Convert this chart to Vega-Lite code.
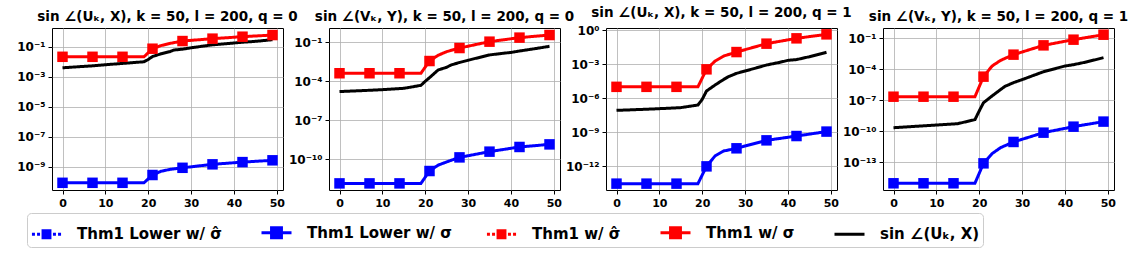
{
  "$schema": "https://vega.github.io/schema/vega-lite/v6.json",
  "padding": {"left": 16, "top": 5, "right": 0, "bottom": 3},
  "background": "white",
  "data": {"values": [
    {"p":1,"x":0,"l":8.51e-11,"u":2.14e-2,"s":3.98e-3},
    {"p":1,"x":5,"s":4.90e-3},
    {"p":1,"x":7,"l":8.51e-11,"u":2.14e-2,"s":5.37e-3},
    {"p":1,"x":10,"s":6.31e-3},
    {"p":1,"x":14,"l":8.51e-11,"u":2.14e-2,"s":7.76e-3},
    {"p":1,"x":15,"s":8.13e-3},
    {"p":1,"x":19,"l":8.51e-11,"u":2.14e-2,"s":1.0e-2},
    {"p":1,"x":20,"s":1.41e-2},
    {"p":1,"x":21,"l":2.82e-10,"u":7.41e-2,"s":2.24e-2},
    {"p":1,"x":23,"l":5.01e-10,"u":1.20e-1,"s":3.39e-2},
    {"p":1,"x":25,"l":6.61e-10,"u":1.66e-1,"s":4.68e-2},
    {"p":1,"x":26,"s":6.03e-2},
    {"p":1,"x":28,"l":8.51e-10,"u":2.40e-1,"s":6.92e-2},
    {"p":1,"x":30,"s":8.51e-2},
    {"p":1,"x":35,"l":1.45e-9,"u":3.47e-1,"s":1.35e-1},
    {"p":1,"x":38,"s":1.58e-1},
    {"p":1,"x":40,"s":1.78e-1},
    {"p":1,"x":42,"l":2.04e-9,"u":4.68e-1,"s":2.0e-1},
    {"p":1,"x":45,"s":2.29e-1},
    {"p":1,"x":49,"l":2.69e-9,"u":6.03e-1,"s":2.95e-1},

    {"p":2,"x":0,"l":1.41e-12,"u":4.17e-4,"s":1.62e-5},
    {"p":2,"x":5,"s":1.91e-5},
    {"p":2,"x":7,"l":1.41e-12,"u":4.17e-4,"s":2.04e-5},
    {"p":2,"x":10,"s":2.29e-5},
    {"p":2,"x":14,"l":1.41e-12,"u":4.17e-4,"s":2.75e-5},
    {"p":2,"x":15,"s":2.88e-5},
    {"p":2,"x":19,"l":1.41e-12,"u":4.17e-4,"s":4.90e-5},
    {"p":2,"x":20,"s":1.0e-4},
    {"p":2,"x":21,"l":1.26e-11,"u":3.63e-3,"s":1.91e-4},
    {"p":2,"x":23,"l":3.55e-11,"u":1.0e-2,"s":7.41e-4},
    {"p":2,"x":25,"l":6.31e-11,"u":1.91e-2,"s":1.20e-3},
    {"p":2,"x":26,"s":1.78e-3},
    {"p":2,"x":28,"l":1.41e-10,"u":3.63e-2,"s":2.82e-3},
    {"p":2,"x":30,"s":4.17e-3},
    {"p":2,"x":35,"l":3.89e-10,"u":1.12e-1,"s":1.07e-2},
    {"p":2,"x":38,"s":1.41e-2},
    {"p":2,"x":40,"s":1.66e-2},
    {"p":2,"x":42,"l":8.91e-10,"u":2.29e-1,"s":2.14e-2},
    {"p":2,"x":45,"s":3.02e-2},
    {"p":2,"x":49,"l":1.41e-9,"u":3.63e-1,"s":4.90e-2},

    {"p":3,"x":0,"l":3.02e-14,"u":1.0e-5,"s":8.51e-8},
    {"p":3,"x":5,"s":1.0e-7},
    {"p":3,"x":7,"l":3.02e-14,"u":1.0e-5,"s":1.07e-7},
    {"p":3,"x":10,"s":1.20e-7},
    {"p":3,"x":14,"l":3.02e-14,"u":1.0e-5,"s":1.41e-7},
    {"p":3,"x":15,"s":1.48e-7},
    {"p":3,"x":19,"l":3.02e-14,"u":1.0e-5,"s":2.51e-7},
    {"p":3,"x":20,"s":7.94e-7},
    {"p":3,"x":21,"l":1.0e-12,"u":3.47e-4,"s":4.27e-6},
    {"p":3,"x":23,"l":8.32e-12,"u":1.86e-3,"s":1.45e-5},
    {"p":3,"x":25,"l":2.24e-11,"u":5.13e-3,"s":4.47e-5},
    {"p":3,"x":26,"s":7.41e-5},
    {"p":3,"x":28,"l":3.89e-11,"u":1.15e-2,"s":1.55e-4},
    {"p":3,"x":30,"s":2.45e-4},
    {"p":3,"x":35,"l":1.95e-10,"u":6.31e-2,"s":8.32e-4},
    {"p":3,"x":38,"s":1.41e-3},
    {"p":3,"x":40,"s":2.14e-3},
    {"p":3,"x":42,"l":4.68e-10,"u":1.86e-1,"s":2.51e-3},
    {"p":3,"x":45,"s":4.47e-3},
    {"p":3,"x":49,"l":1.15e-9,"u":4.17e-1,"s":1.10e-2},

    {"p":4,"x":0,"l":9.33e-16,"u":2.24e-7,"s":2.24e-10},
    {"p":4,"x":5,"s":3.02e-10},
    {"p":4,"x":7,"l":9.33e-16,"u":2.24e-7,"s":3.39e-10},
    {"p":4,"x":10,"s":4.07e-10},
    {"p":4,"x":14,"l":9.33e-16,"u":2.24e-7,"s":5.13e-10},
    {"p":4,"x":15,"s":5.50e-10},
    {"p":4,"x":19,"l":9.33e-16,"u":2.24e-7,"s":1.35e-9},
    {"p":4,"x":20,"s":9.33e-9},
    {"p":4,"x":21,"l":7.94e-14,"u":1.95e-5,"s":5.89e-8},
    {"p":4,"x":23,"l":6.92e-13,"u":2.09e-4,"s":2.63e-7},
    {"p":4,"x":25,"l":2.63e-12,"u":7.41e-4,"s":1.12e-6},
    {"p":4,"x":26,"s":2.24e-6},
    {"p":4,"x":28,"l":9.33e-12,"u":2.63e-3,"s":5.13e-6},
    {"p":4,"x":30,"s":1.0e-5},
    {"p":4,"x":35,"l":7.41e-11,"u":2.09e-2,"s":5.89e-5},
    {"p":4,"x":38,"s":1.26e-4},
    {"p":4,"x":40,"s":2.09e-4},
    {"p":4,"x":42,"l":2.82e-10,"u":7.41e-2,"s":2.82e-4},
    {"p":4,"x":45,"s":5.13e-4},
    {"p":4,"x":49,"l":8.71e-10,"u":2.24e-1,"s":1.35e-3}
  ]},
  "transform": [
    {"fold": ["l", "u", "s"], "as": ["k", "v"]},
    {"filter": "isValid(datum.v)"}
  ],
  "bounds": "flush",
  "spacing": 46,
  "resolve": {
    "scale": {"x": "independent", "y": "independent", "color": "shared", "strokeDash": "shared"},
    "legend": {"color": "shared", "strokeDash": "shared"}
  },
  "hconcat": [
    {
      "width": 231, "height": 162,
      "title": {"text": "sin ∠(Uₖ, X), k = 50,  l = 200,  q = 0"},
      "transform": [{"filter": "datum.p == 1"}],
      "layer": [
        {"mark": {"type": "line", "strokeWidth": 3},
         "encoding": {
           "x": {"field": "x", "type": "quantitative", "scale": {"domain": [-2.45, 51.45], "nice": false, "zero": false}, "axis": {"values": [0,10,20,30,40,50], "title": null}},
           "y": {"field": "v", "type": "quantitative", "scale": {"type": "log", "domain": [2.82e-11, 1.78], "nice": false}, "axis": {"values": [1e-1,1e-3,1e-5,1e-7,1e-9], "title": null}},
           "color": {"field": "k", "type": "nominal"},
           "strokeDash": {"field": "k", "type": "nominal"}
         }},
        {"transform": [{"filter": "datum.k != 's' && indexof([0,7,14,21,28,35,42,49], datum.x) >= 0"}],
         "mark": {"type": "point", "shape": "square", "filled": true, "size": 110, "opacity": 1},
         "encoding": {
           "x": {"field": "x", "type": "quantitative"},
           "y": {"field": "v", "type": "quantitative"},
           "color": {"field": "k", "type": "nominal"}
         }}
      ]
    },
    {
      "width": 231, "height": 162,
      "title": {"text": "sin ∠(Vₖ, Y), k = 50,  l = 200,  q = 0"},
      "transform": [{"filter": "datum.p == 2"}],
      "layer": [
        {"mark": {"type": "line", "strokeWidth": 3},
         "encoding": {
           "x": {"field": "x", "type": "quantitative", "scale": {"domain": [-2.45, 51.45], "nice": false, "zero": false}, "axis": {"values": [0,10,20,30,40,50], "title": null}},
           "y": {"field": "v", "type": "quantitative", "scale": {"type": "log", "domain": [4.37e-13, 1.26], "nice": false}, "axis": {"values": [1e-1,1e-4,1e-7,1e-10], "title": null}},
           "color": {"field": "k", "type": "nominal"},
           "strokeDash": {"field": "k", "type": "nominal"}
         }},
        {"transform": [{"filter": "datum.k != 's' && indexof([0,7,14,21,28,35,42,49], datum.x) >= 0"}],
         "mark": {"type": "point", "shape": "square", "filled": true, "size": 110, "opacity": 1},
         "encoding": {
           "x": {"field": "x", "type": "quantitative"},
           "y": {"field": "v", "type": "quantitative"},
           "color": {"field": "k", "type": "nominal"}
         }}
      ]
    },
    {
      "width": 231, "height": 162,
      "title": {"text": "sin ∠(Uₖ, X), k = 50,  l = 200,  q = 1"},
      "transform": [{"filter": "datum.p == 3"}],
      "layer": [
        {"mark": {"type": "line", "strokeWidth": 3},
         "encoding": {
           "x": {"field": "x", "type": "quantitative", "scale": {"domain": [-2.45, 51.45], "nice": false, "zero": false}, "axis": {"values": [0,10,20,30,40,50], "title": null}},
           "y": {"field": "v", "type": "quantitative", "scale": {"type": "log", "domain": [8.32e-15, 1.51], "nice": false}, "axis": {"values": [1,1e-3,1e-6,1e-9,1e-12], "title": null}},
           "color": {"field": "k", "type": "nominal"},
           "strokeDash": {"field": "k", "type": "nominal"}
         }},
        {"transform": [{"filter": "datum.k != 's' && indexof([0,7,14,21,28,35,42,49], datum.x) >= 0"}],
         "mark": {"type": "point", "shape": "square", "filled": true, "size": 110, "opacity": 1},
         "encoding": {
           "x": {"field": "x", "type": "quantitative"},
           "y": {"field": "v", "type": "quantitative"},
           "color": {"field": "k", "type": "nominal"}
         }}
      ]
    },
    {
      "width": 231, "height": 162,
      "title": {"text": "sin ∠(Vₖ, Y), k = 50,  l = 200,  q = 1"},
      "transform": [{"filter": "datum.p == 4"}],
      "layer": [
        {"mark": {"type": "line", "strokeWidth": 3},
         "encoding": {
           "x": {"field": "x", "type": "quantitative", "scale": {"domain": [-2.45, 51.45], "nice": false, "zero": false}, "axis": {"values": [0,10,20,30,40,50], "title": null}},
           "y": {"field": "v", "type": "quantitative", "scale": {"type": "log", "domain": [2.09e-16, 1.0], "nice": false}, "axis": {"values": [1e-1,1e-4,1e-7,1e-10,1e-13], "title": null}},
           "color": {"field": "k", "type": "nominal", "scale": {"domain": ["lh","l","uh","u","s"], "range": ["#0000ff","#0000ff","#ff0000","#ff0000","#000000"]},
             "legend": {
               "orient": "none", "legendX": -25, "legendY": 185, "direction": "horizontal", "title": null,
               "labelExpr": "datum.value == 'lh' ? 'Thm1 Lower w/ σ̂' : datum.value == 'l' ? 'Thm1 Lower w/ σ' : datum.value == 'uh' ? 'Thm1 w/ σ̂' : datum.value == 'u' ? 'Thm1 w/ σ' : 'sin ∠(Uₖ, X)'",
               "encode": {"symbols": {"update": {
                 "fill": {"scale": "color", "field": "value"},
                 "strokeOpacity": {"signal": "(datum.value == 'lh' || datum.value == 'uh') ? 0 : 1"},
                 "shape": {"signal": "datum.value == 's' ? 'M-1,0H1' : (datum.value == 'lh' || datum.value == 'uh') ? 'M-0.97,-0.1H-0.77V0.1H-0.97Z M-0.63,-0.1H-0.43V0.1H-0.63Z M0.43,-0.1H0.63V0.1H0.43Z M0.77,-0.1H0.97V0.1H0.77Z M-0.33,-0.33H0.33V0.33H-0.33Z' : 'M-1,0H1M-0.33,-0.33H0.33V0.33H-0.33Z'"},
                 "strokeWidth": {"value": 3},
                 "opacity": {"value": 1}
               }}}
             }},
           "strokeDash": {"field": "k", "type": "nominal", "scale": {"domain": ["lh","l","uh","u","s"], "range": [[3,5],[1,0],[3,5],[1,0],[1,0]]}}
         }},
        {"transform": [{"filter": "datum.k != 's' && indexof([0,7,14,21,28,35,42,49], datum.x) >= 0"}],
         "mark": {"type": "point", "shape": "square", "filled": true, "size": 110, "opacity": 1},
         "encoding": {
           "x": {"field": "x", "type": "quantitative"},
           "y": {"field": "v", "type": "quantitative"},
           "color": {"field": "k", "type": "nominal"}
         }}
      ]
    }
  ],
  "config": {
    "font": "DejaVu Sans",
    "view": {"stroke": "black", "strokeWidth": 1},
    "title": {"font": "DejaVu Sans", "fontSize": 13.5, "fontWeight": "bold", "color": "black", "offset": 5, "anchor": "middle"},
    "axis": {
      "labelFont": "DejaVu Sans", "labelFontWeight": "bold", "labelFontSize": 11, "labelColor": "black",
      "tickColor": "black", "tickSize": 4, "tickWidth": 1, "domain": false,
      "grid": true, "gridColor": "#b0b0b0", "gridWidth": 0.8, "labelPadding": 3
    },
    "axisY": {
      "labelFontSize": 12,
      "labelExpr": "'10' + replace(replace(replace(replace(replace(replace(replace(replace(replace(replace('' + round(log(datum.value)/LN10), '-', '⁻'), '0', '⁰'), '1', '¹'), '2', '²'), '3', '³'), '4', '⁴'), '5', '⁵'), '6', '⁶'), '7', '⁷'), '9', '⁹')"
    },
    "legend": {
      "labelFont": "DejaVu Sans", "labelFontWeight": "bold", "labelFontSize": 15, "labelColor": "black", "labelLimit": 400,
      "symbolType": "M-1,0H1M-0.33,-0.33H0.33V0.33H-0.33Z", "symbolSize": 900, "symbolStrokeWidth": 3,
      "labelOffset": 14, "columnPadding": 33, "padding": 3,
      "strokeColor": "#cccccc", "fillColor": "white", "cornerRadius": 4
    }
  }
}
